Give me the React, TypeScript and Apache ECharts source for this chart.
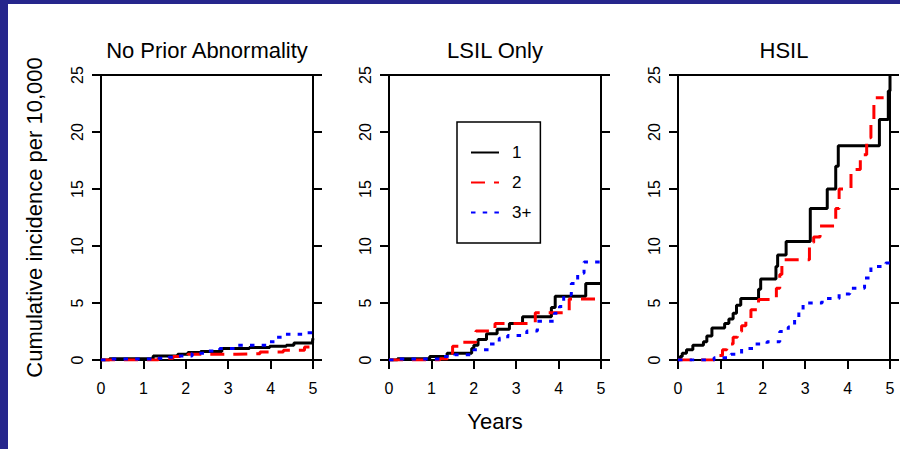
import React, { useEffect, useRef } from "react";
import * as echarts from "echarts";

const FONT = "'Liberation Sans', Arial, sans-serif";

const panelTitles = ["No Prior Abnormality", "LSIL Only", "HSIL"];
const seriesNames = ["1", "2", "3+"];
const xTicks = { min: 0, max: 5, interval: 1 };
const yTicks = { min: 0, max: 25, interval: 5 };

// No Prior Abnormality
const noPrior1X = [0, 0.2, 1.23, 1.81, 2.05, 2.35, 2.85, 3.5, 3.98, 4.37, 4.55, 4.99, 5.0];
const noPrior1Y = [0, 0.1, 0.35, 0.5, 0.65, 0.75, 1.0, 1.1, 1.2, 1.3, 1.5, 1.7, 1.9];
const noPrior2X = [0, 1.35, 1.7, 2.05, 3.2, 3.75, 4.3, 4.8, 5.0];
const noPrior2Y = [0, 0.15, 0.3, 0.5, 0.55, 0.7, 0.85, 1.15, 1.15];
const noPrior3X = [0, 0.2, 1.25, 1.6, 1.8, 2.15, 2.5, 2.8, 3.2, 3.95, 4.1, 4.3, 4.8, 5.0];
const noPrior3Y = [0, 0.08, 0.15, 0.25, 0.35, 0.6, 0.8, 1.0, 1.3, 1.6, 2.0, 2.25, 2.4, 2.4];

// LSIL Only
const lsil1X = [0, 0.2, 0.96, 1.37, 1.95, 2.0, 2.1, 2.3, 2.55, 2.84, 3.15, 3.83, 3.92, 4.64, 5.0];
const lsil1Y = [0, 0.1, 0.3, 0.6, 1.0, 1.3, 1.8, 2.3, 2.7, 3.2, 3.8, 4.6, 5.6, 6.7, 6.7];
const lsil2X = [0, 1.2, 1.38, 1.5, 1.65, 2.05, 2.5, 3.45, 4.25, 5.0];
const lsil2Y = [0, 0.1, 0.6, 1.2, 1.55, 2.55, 3.2, 4.15, 5.35, 5.35];
const lsil3X = [0, 0.2, 1.28, 1.55, 2.0, 2.35, 2.6, 2.8, 3.25, 3.5, 3.9, 4.02, 4.12, 4.3, 4.45, 4.6, 5.0];
const lsil3Y = [0, 0.08, 0.3, 0.45, 0.9, 1.4, 1.9, 2.15, 2.55, 3.4, 4.1, 4.7, 5.7, 6.7, 7.6, 8.6, 8.7];

// HSIL
const hsil1X = [0, 0.05, 0.1, 0.2, 0.35, 0.6, 0.68, 0.8, 1.1, 1.2, 1.3, 1.38, 1.48, 1.9, 1.95, 2.31, 2.35, 2.55, 3.12, 3.52, 3.72, 3.78, 4.75, 4.96, 5.0];
const hsil1Y = [0, 0.3, 0.6, 0.9, 1.3, 1.6, 2.1, 2.8, 3.2, 3.6, 4.1, 4.8, 5.4, 6.2, 7.1, 8.2, 9.2, 10.4, 13.3, 15.0, 17.0, 18.8, 21.1, 23.6, 25.0];
const hsil2X = [0, 0.92, 1.05, 1.15, 1.3, 1.4, 1.5, 1.6, 1.72, 1.9, 2.32, 2.4, 2.45, 3.1, 3.2, 3.35, 3.72, 3.8, 4.08, 4.3, 4.45, 4.55, 4.62, 4.85];
const hsil2Y = [0, 0.4, 0.9, 1.4, 2.0, 2.5, 3.0, 3.6, 4.4, 5.3, 6.3, 7.5, 8.8, 10.3, 10.8, 11.75, 13.3, 15.0, 16.7, 18.0, 19.5, 20.8, 23.0, 23.0];
const hsil3X = [0, 0.85, 1.25, 1.5, 1.8, 2.1, 2.4, 2.6, 2.75, 2.85, 2.95, 3.4, 3.8, 4.05, 4.4, 4.55, 4.9, 5.0];
const hsil3Y = [0, 0.2, 0.5, 1.0, 1.4, 1.6, 2.5, 2.9, 3.7, 4.2, 5.0, 5.4, 5.8, 6.3, 7.2, 8.2, 8.5, 8.8];

const panels = [
  [[noPrior1X, noPrior1Y], [noPrior2X, noPrior2Y], [noPrior3X, noPrior3Y]],
  [[lsil1X, lsil1Y], [lsil2X, lsil2Y], [lsil3X, lsil3Y]],
  [[hsil1X, hsil1Y], [hsil2X, hsil2Y], [hsil3X, hsil3Y]],
];

const gridLefts = [101, 389, 678];
const gridWidth = 212;
const gridTop = 75;
const gridHeight = 285;

const lineStyles = [
  { color: "#000000", type: "solid" as any, cap: "butt" as any },
  { color: "#ff0000", type: [14, 9] as any, cap: "butt" as any },
  { color: "#0000ff", type: [4.5, 7.2] as any, cap: "butt" as any },
];

export default function App() {
  const ref = useRef<HTMLDivElement>(null);
  useEffect(() => {
    if (!ref.current) return;
    const chart = echarts.init(ref.current, null, { renderer: "svg" });

    const grids = gridLefts.map((l) => ({
      left: l,
      top: gridTop,
      width: gridWidth,
      height: gridHeight,
      show: true,
      borderColor: "#000",
      borderWidth: 2,
      backgroundColor: "transparent",
      containLabel: false,
    }));

    const xAxes = gridLefts.map((_, i) => ({
      gridIndex: i,
      type: "value",
      ...xTicks,
      name: i === 1 ? "Years" : "",
      nameLocation: "middle",
      nameGap: 50,
      nameTextStyle: { fontSize: 22, color: "#000", fontFamily: FONT },
      axisLine: { show: true, onZero: false, lineStyle: { color: "#000", width: 2 } },
      axisTick: { show: true, length: 9, lineStyle: { color: "#000", width: 2 } },
      axisLabel: { fontSize: 16, color: "#000", margin: 20, fontFamily: FONT },
      splitLine: { show: false },
    }));

    const yAxes: any[] = [];
    gridLefts.forEach((_, i) => {
      yAxes.push({
        gridIndex: i,
        type: "value",
        position: "left",
        ...yTicks,
        name: i === 0 ? "Cumulative incidence per 10,000" : "",
        nameLocation: "middle",
        nameGap: 56,
        nameRotate: 90,
        nameTextStyle: { fontSize: 22, color: "#000", fontFamily: FONT },
        axisLine: { show: true, onZero: false, lineStyle: { color: "#000", width: 2 } },
        axisTick: { show: true, length: 9, lineStyle: { color: "#000", width: 2 } },
        axisLabel: { fontSize: 16, color: "#000", margin: 16, rotate: 90, fontFamily: FONT },
        splitLine: { show: false },
      });
      yAxes.push({
        gridIndex: i,
        type: "value",
        position: "right",
        ...yTicks,
        axisLine: { show: true, onZero: false, lineStyle: { color: "#000", width: 2 } },
        axisTick: { show: true, length: 9, lineStyle: { color: "#000", width: 2 } },
        axisLabel: { show: false },
        splitLine: { show: false },
      });
    });

    const series: any[] = [];
    panels.forEach((panel, i) => {
      panel.forEach(([xs, ys], s) => {
        series.push({
          type: "line",
          name: seriesNames[s],
          xAxisIndex: i,
          yAxisIndex: i * 2,
          step: "end",
          symbol: "none",
          z: 2 + s,
          data: xs.map((x, k) => [x, ys[k]]),
          lineStyle: { width: 3, ...lineStyles[s] },
          itemStyle: { color: lineStyles[s].color },
        });
      });
    });

    const titleGraphics = panelTitles.map((t, i) => ({
      type: "text",
      x: gridLefts[i] + gridWidth / 2,
      y: 50,
      style: {
        text: t,
        fontSize: 22,
        fontFamily: FONT,
        fill: "#000",
        align: "center",
        verticalAlign: "middle",
        textAlign: "center",
        textVerticalAlign: "middle",
      },
    }));

    chart.setOption({
      animation: false,
      backgroundColor: "#ffffff",
      grid: grids,
      xAxis: xAxes,
      yAxis: yAxes,
      series,
      legend: {
        show: true,
        data: seriesNames,
        orient: "vertical",
        left: 457,
        top: 122,
        itemWidth: 28,
        itemHeight: 14,
        itemGap: 13,
        padding: [22, 9, 22, 13],
        borderColor: "#000",
        borderWidth: 1.5,
        selectedMode: false,
        itemStyle: { opacity: 0 },
        textStyle: { fontSize: 17, color: "#000", fontFamily: FONT, padding: [3, 0, 0, 8] },
      },
      graphic: [
        { type: "rect", shape: { x: 0, y: 0, width: 900, height: 4 }, style: { fill: "#26268c" }, silent: true },
        { type: "rect", shape: { x: 0, y: 0, width: 8, height: 449 }, style: { fill: "#26268c" }, silent: true },
        ...titleGraphics,
      ],
    });

    return () => chart.dispose();
  }, []);

  return (
    <div
      ref={ref}
      style={{ position: "absolute", left: 0, top: 0, width: 900, height: 449 }}
    />
  );
}
